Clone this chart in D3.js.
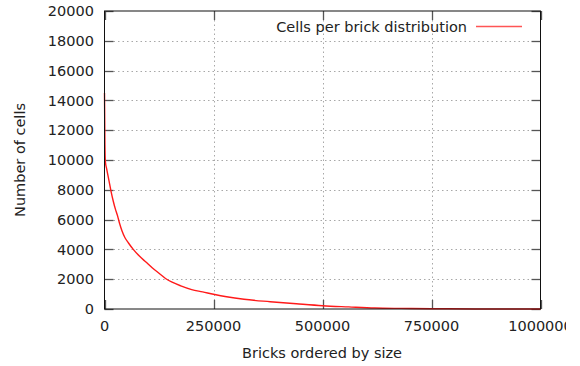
<!DOCTYPE html>
<html><head><meta charset="utf-8">
<script src="https://cdn.jsdelivr.net/npm/d3@7"></script>
<style>body{margin:0;background:#fff}svg{display:block}text{font-family:"DejaVu Sans",sans-serif;fill:#222}</style>
</head><body>
<svg id="c" width="580" height="366"></svg>
<script>
const xTicks = [0, 250000, 500000, 750000, 1000000];
const yTicks = [0, 2000, 4000, 6000, 8000, 10000, 12000, 14000, 16000, 18000, 20000];
const bricks = [0, 1000, 2000, 5000, 10000, 15000, 20000, 25000, 30000, 35000, 40000, 47000, 55000, 66000, 80000, 95000, 110000, 125000, 140000, 155000, 175000, 200000, 225000, 250000, 280000, 320000, 380000, 440000, 500000, 560000, 620000, 680000, 750000, 850000, 1000000];
const cells = [14500, 11000, 9900, 9400, 8650, 7900, 7250, 6700, 6250, 5700, 5250, 4780, 4430, 4000, 3550, 3150, 2750, 2400, 2050, 1800, 1550, 1300, 1150, 990, 820, 650, 490, 350, 220, 140, 67, 40, 20, 5, 0];
const seriesName = "Cells per brick distribution";
const xTitle = "Bricks ordered by size";
const yTitle = "Number of cells";

const svg = d3.select("#c");
const L = 104.5, R = 540.5, T = 11, B = 309;
const x = d3.scaleLinear().domain([0, 1000000]).range([L, R]);
const y = d3.scaleLinear().domain([0, 20000]).range([B, T]);

svg.append("defs").append("clipPath").attr("id","pageclip")
  .append("rect").attr("x",0).attr("y",0).attr("width",566).attr("height",366);
const root = svg.append("g").attr("clip-path","url(#pageclip)");

// grid
const grid = root.append("g").attr("stroke","#a8a8a8").attr("stroke-width",1).attr("stroke-dasharray","1.5,3");
yTicks.filter(v => v > 0 && v < 20000).forEach(v => {
  grid.append("line").attr("x1", L).attr("x2", R).attr("y1", Math.round(y(v))+0.5).attr("y2", Math.round(y(v))+0.5);
});
xTicks.filter(v => v > 0 && v < 1000000).forEach(v => {
  grid.append("line").attr("y1", T).attr("y2", B).attr("x1", Math.round(x(v))+0.5).attr("x2", Math.round(x(v))+0.5);
});

// ticks (mirrored, inward)
const tk = root.append("g").attr("stroke","#555").attr("stroke-width",1.3);
yTicks.forEach(v => {
  const yy = Math.round(y(v))+0.5;
  tk.append("line").attr("x1", L).attr("x2", L+9).attr("y1", yy).attr("y2", yy);
  tk.append("line").attr("x1", R-9).attr("x2", R).attr("y1", yy).attr("y2", yy);
});
xTicks.forEach(v => {
  const xx = Math.round(x(v))+0.5;
  tk.append("line").attr("x1", xx).attr("x2", xx).attr("y1", B).attr("y2", B-9);
  tk.append("line").attr("x1", xx).attr("x2", xx).attr("y1", T).attr("y2", T+9);
});

// curve
const line = d3.line().x((d,i) => x(bricks[i])).y(d => y(d)).curve(d3.curveMonotoneX);
root.append("path").datum(cells).attr("d", line).attr("fill","none").attr("stroke","#ff1a1a").attr("stroke-width",1.4);

// border
root.append("rect").attr("x", L).attr("y", T).attr("width", R-L).attr("height", B-T)
  .attr("fill","none").attr("stroke","#111").attr("stroke-width",1);

// tick labels
yTicks.forEach(v => {
  root.append("text").attr("x", 94).attr("y", y(v)).attr("dy","0.36em").attr("text-anchor","end")
    .attr("font-size",14.5).text(v);
});
xTicks.forEach(v => {
  root.append("text").attr("x", x(v)).attr("y", 331).attr("text-anchor","middle")
    .attr("font-size",14.5).text(v);
});

// axis titles
root.append("text").attr("x", 322).attr("y", 358).attr("text-anchor","middle").attr("font-size",14.5).text(xTitle);
root.append("text").attr("transform","translate(25,160) rotate(-90)").attr("text-anchor","middle").attr("font-size",14.5).text(yTitle);

// legend
root.append("text").attr("x", 467).attr("y", 31.5).attr("text-anchor","end").attr("font-size",14.5).text(seriesName);
root.append("line").attr("x1",476).attr("x2",522).attr("y1",26.5).attr("y2",26.5).attr("stroke","#ff5555").attr("stroke-width",1.4);
</script>
</body></html>
